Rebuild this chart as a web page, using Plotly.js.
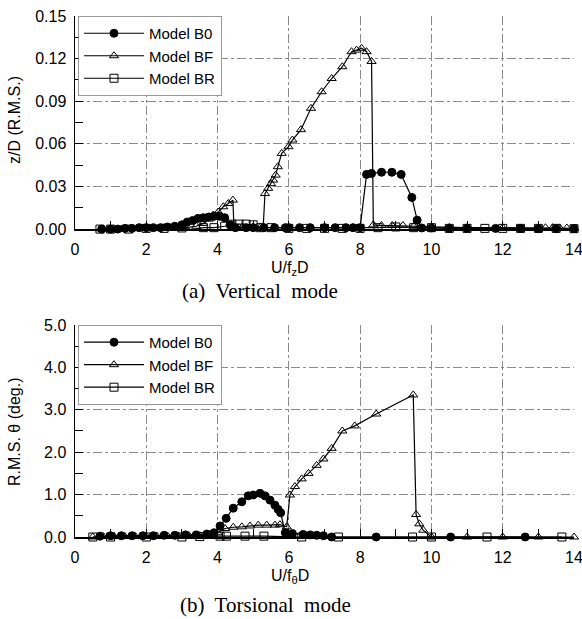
<!DOCTYPE html>
<html>
<head>
<meta charset="utf-8">
<script src="https://cdn.plot.ly/plotly-3.0.1.min.js"></script>
<style>html,body{margin:0;padding:0;background:#fff;}</style>
</head>
<body>
<div id="chart" style="width:582px;height:619px;"></div>
<script>
// ---- (a) Vertical mode: z/D (R.M.S.) vs U/fzD ----
var vB0x = [0.75,1.0,1.2,1.4,1.6,1.8,2.0,2.2,2.4,2.6,2.8,3.0,3.15,3.3,3.45,3.6,3.75,3.9,4.05,4.2,4.35,4.5,4.8,5.0,5.3,5.6,5.9,6.0,6.3,6.6,7.0,7.3,7.6,7.8,8.0,8.18,8.32,8.6,8.89,9.15,9.45,9.6,9.73,10.0,10.5,11.0,11.8,12.5,13.0,13.5,14.0];
var vB0y = [0,0,0,0.0005,0.0005,0.001,0.001,0.001,0.001,0.0015,0.002,0.003,0.005,0.006,0.0075,0.008,0.0085,0.009,0.009,0.008,0.003,0.001,0.001,0.001,0.001,0.001,0.001,0.001,0.001,0.001,0.001,0.001,0.001,0.001,0.001,0.0385,0.0392,0.040,0.040,0.0385,0.0223,0.0063,0.0008,0.0008,0.0005,0.0005,0.0005,0.0005,0.0003,0.0003,0.0003];
var vBFx = [0.75,1.0,1.3,1.6,1.9,2.2,2.5,2.8,3.1,3.4,3.6,3.75,3.88,4.02,4.16,4.3,4.43,4.46,4.7,5.0,5.2,5.28,5.33,5.42,5.5,5.56,5.63,5.69,5.8,5.99,6.1,6.34,6.62,6.92,7.2,7.5,7.76,7.9,8.04,8.18,8.32,8.37,8.6,8.9,9.2,9.5,10.0,10.5,11.0,12.0,13.2,13.4,13.6,13.8,14.0];
var vBFy = [0,0,0,0.0005,0.0005,0.0005,0.001,0.001,0.001,0.002,0.004,0.007,0.0099,0.012,0.0157,0.018,0.0204,0.001,0.0015,0.0015,0.0015,0.0015,0.025,0.0287,0.032,0.0345,0.038,0.0439,0.0533,0.058,0.0627,0.070,0.085,0.0967,0.106,0.1143,0.1249,0.126,0.1273,0.1249,0.118,0.003,0.0025,0.0025,0.0025,0.002,0.0015,0.0012,0.001,0.001,0.001,0.001,0.0008,0.0008,0.0005];
var vBRx = [0.7,1.0,1.5,2.0,2.5,3.0,3.3,3.6,3.9,4.2,4.4,4.6,4.8,5.0,5.2,5.5,6.0,6.5,7.0,7.5,8.0,8.5,9.0,9.5,10.0,10.5,11.0,11.5,12.0,12.5,13.0,13.5,14.0];
var vBRy = [0,0,0,0.0005,0.0005,0.0008,-0.0005,0.001,0.001,0.002,0.0035,0.0035,0.0035,0.003,0.001,0.001,0.0005,0.0005,0.0005,0.0005,0.0005,0.001,0.0015,0.001,0.001,0.0005,0.0005,0.0005,0.0005,0.0005,0.0005,0.0005,0.0003];

// ---- (b) Torsional mode: R.M.S. theta (deg.) vs U/fθD ----
var tB0x = [0.7,1.0,1.3,1.6,1.9,2.2,2.5,2.8,3.1,3.4,3.7,3.9,4.07,4.24,4.44,4.68,4.86,5.0,5.19,5.33,5.47,5.61,5.7,5.77,5.9,6.1,6.4,6.6,6.78,6.97,7.2,8.45,10.54,12.63];
var tB0y = [0.02,0.03,0.03,0.03,0.03,0.03,0.04,0.04,0.05,0.05,0.07,0.1,0.26,0.44,0.68,0.83,0.97,0.99,1.03,0.97,0.87,0.75,0.65,0.57,0.1,0.08,0.06,0.05,0.04,0.03,0.0,0.0,0.0,0.0];
var tBFx = [0.5,0.8,1.1,1.4,1.7,2.0,2.3,2.6,2.9,3.2,3.5,3.8,4.0,4.21,4.44,4.68,4.91,5.14,5.38,5.61,5.75,5.94,6.03,6.17,6.36,6.55,6.78,6.97,7.2,7.5,7.85,8.45,9.49,9.57,9.66,9.77,10.0,11.0,12.0,13.0,14.0];
var tBFy = [0,0.01,0.01,0.01,0.01,0.02,0.02,0.02,0.02,0.03,0.03,0.05,0.1,0.2,0.23,0.24,0.26,0.28,0.28,0.28,0.29,0.24,0.99,1.19,1.37,1.5,1.69,1.84,2.09,2.5,2.62,2.9,3.35,0.53,0.31,0.16,0.0,0.0,0.0,0.0,0.0];
var tBRx = [0.5,1.0,2.0,3.0,3.5,4.07,4.25,4.77,5.3,6.36,7.39,9.47,10.0,11.56,13.66];
var tBRy = [0,0,0,0,0.01,0.02,0.02,0.02,0.02,0.0,0.0,0.0,0.0,0.0,0.0];

var names = ['Model B0','Model BF','Model BR'];
var xTicks = [0,2,4,6,8,10,12,14];

function mk(x, y, name, sym, xa, ya, leg) {
  var filled = sym === 'circle';
  return {
    x: x, y: y, name: name, type: 'scatter', mode: 'lines+markers',
    xaxis: xa, yaxis: ya, legend: leg, cliponaxis: false,
    line: {color: '#000', width: 1.2},
    marker: {symbol: filled ? 'circle' : sym + '-open', size: 8,
             color: '#000', line: {color: '#000', width: 1}}
  };
}

var data = [
  mk(vB0x, vB0y, names[0], 'circle', 'x', 'y', 'legend'),
  mk(vBFx, vBFy, names[1], 'triangle-up', 'x', 'y', 'legend'),
  mk(vBRx, vBRy, names[2], 'square', 'x', 'y', 'legend'),
  mk(tB0x, tB0y, names[0], 'circle', 'x2', 'y2', 'legend2'),
  mk(tBFx, tBFy, names[1], 'triangle-up', 'x2', 'y2', 'legend2'),
  mk(tBRx, tBRy, names[2], 'square', 'x2', 'y2', 'legend2')
];

var gridC = '#8a8a8a';
function xax(anchor) {
  return {
    anchor: anchor, domain: [0, 1], range: [0, 14], tickvals: xTicks, ticktext: xTicks.map(String),
    ticks: 'inside', ticklen: 8, tickcolor: '#000', ticklabelstandoff: 5, ticklabeloverflow: 'allow',
    showgrid: true, gridcolor: gridC, griddash: 'dashdot', gridwidth: 1,
    showline: true, linecolor: '#000', linewidth: 1.5, zeroline: false,
    minor: {dtick: 1, tick0: 0, ticks: 'inside', ticklen: 8, tickcolor: '#000', showgrid: false},
    tickfont: {size: 16}
  };
}
function yax(anchor, dom, rng, dt, fmt) {
  return {
    anchor: anchor, domain: dom, range: rng, dtick: dt, tick0: 0, tickformat: fmt,
    ticks: 'inside', ticklen: 8, tickcolor: '#000', ticklabelstandoff: 4,
    showgrid: true, gridcolor: gridC, griddash: 'dashdot', gridwidth: 1,
    showline: true, linecolor: '#000', linewidth: 1.5, zeroline: false,
    minor: {dtick: dt / 2, tick0: 0, ticks: 'inside', ticklen: 8, tickcolor: '#000', showgrid: false},
    tickfont: {size: 16}
  };
}

function legendBox(y) {
  return {x: 0.006, y: y, xanchor: 'left', yanchor: 'top', bgcolor: '#fff',
          bordercolor: '#999', borderwidth: 1, font: {size: 15, color: '#000'},
          itemwidth: 60, tracegroupgap: 2};
}

var PX = function (px) { return (px - 75) / 499; };
var PY = function (py) { return (537 - py) / 521; };

var layout = {
  width: 582, height: 619,
  margin: {l: 75, r: 8, t: 16, b: 82},
  paper_bgcolor: '#fff', plot_bgcolor: '#fff',
  font: {family: '"Liberation Sans", Arial, sans-serif', size: 16, color: '#000'},
  showlegend: true,
  xaxis: xax('y'),
  yaxis: yax('x', [0.591, 1], [0, 0.15], 0.03, '.2f'),
  xaxis2: xax('y2'),
  yaxis2: yax('x2', [0, 0.407], [0, 5], 1, '.1f'),
  legend: legendBox(1),
  legend2: legendBox(0.407),
  annotations: [
    {text: 'U/f<sub>z</sub>D', xref: 'paper', yref: 'paper', x: PX(290), y: PY(268), xanchor: 'center', yanchor: 'middle', showarrow: false, font: {size: 16}},
    {text: '(a)  Vertical  mode', xref: 'paper', yref: 'paper', x: PX(260), y: PY(291), xanchor: 'center', yanchor: 'middle', showarrow: false, font: {family: '"Liberation Serif", "Times New Roman", serif', size: 21}},
    {text: 'z/D (R.M.S.)', xref: 'paper', yref: 'paper', x: PX(14), y: PY(120), xanchor: 'center', yanchor: 'middle', textangle: -90, showarrow: false, font: {size: 16}},
    {text: 'U/f<sub>θ</sub>D', xref: 'paper', yref: 'paper', x: PX(290), y: PY(576), xanchor: 'center', yanchor: 'middle', showarrow: false, font: {size: 16}},
    {text: '(b)  Torsional  mode', xref: 'paper', yref: 'paper', x: PX(265), y: PY(605), xanchor: 'center', yanchor: 'middle', showarrow: false, font: {family: '"Liberation Serif", "Times New Roman", serif', size: 21}},
    {text: 'R.M.S. θ (deg.)', xref: 'paper', yref: 'paper', x: PX(14), y: PY(432), xanchor: 'center', yanchor: 'middle', textangle: -90, showarrow: false, font: {size: 16}}
  ]
};

Plotly.newPlot('chart', data, layout, {displayModeBar: false, staticPlot: true});
</script>
</body>
</html>
